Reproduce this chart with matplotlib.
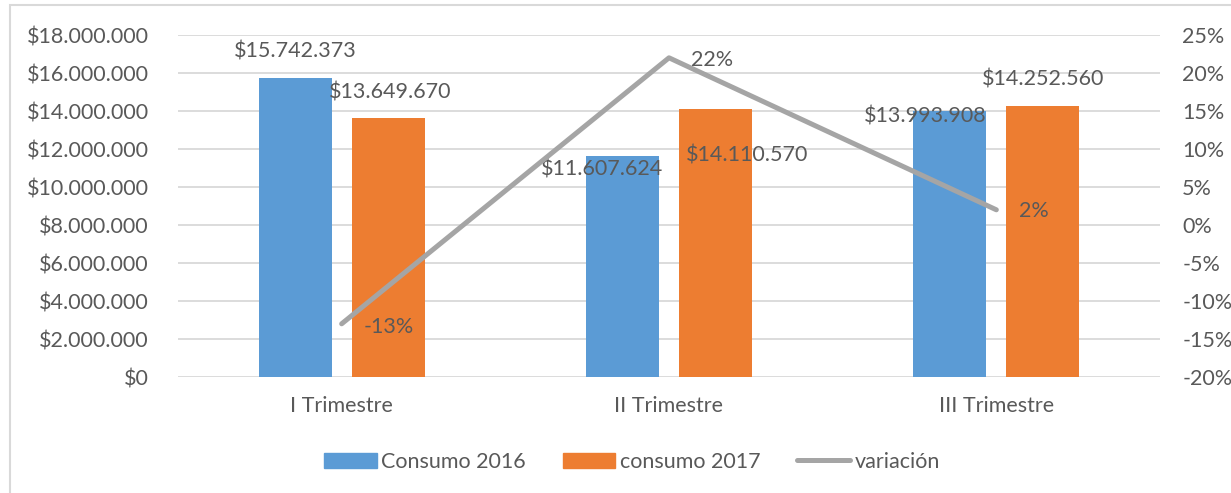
import numpy as np
import matplotlib.pyplot as plt
from matplotlib.lines import Line2D
from matplotlib.patches import Patch, Rectangle
from matplotlib.ticker import FuncFormatter

plt.rcParams['font.family'] = ['Lato', 'DejaVu Sans']

trimestres = ['I Trimestre', 'II Trimestre', 'III Trimestre']
consumo_2016 = [15742373, 11607624, 13993908]
consumo_2017 = [13649670, 14110570, 14252560]
variacion = [-13, 22, 2]

# label offsets (pixels)
off_2016 = [(0, 26), (-20, -13), (-25, -5)]
off_2017 = [(2, 25), (32, -47), (0, 27)]
off_var = [(47, -3), (43, -2), (38, -1)]

AZUL = '#5B9BD5'
NARANJA = '#ED7D31'
GRIS = '#A5A5A5'
TXT = '#595959'
GRID = '#D9D9D9'
FS = 15.5


def pesos(v, pos=None):
    return '$' + '{:,.0f}'.format(v).replace(',', '.')


fig = plt.figure(figsize=(12.31, 4.93), dpi=100)
fig.patches.append(Rectangle((10 / 1231, -0.1), 1.2, 1.1 - 5 / 493, transform=fig.transFigure,
                             fill=False, edgecolor=GRID, linewidth=1.5))

ax = fig.add_axes([178 / 1231, 1 - 377 / 493, (1160 - 178) / 1231, (377 - 35) / 493])
x = np.arange(len(trimestres))
w = 0.223
d = 0.142

ax.bar(x - d, consumo_2016, w, color=AZUL, zorder=2)
ax.bar(x + d, consumo_2017, w, color=NARANJA, zorder=2)

ax.set_ylim(0, 18000000)
ax.set_yticks(np.arange(0, 18000001, 2000000))
ax.yaxis.set_major_formatter(FuncFormatter(pesos))
ax.set_xlim(-0.5, 2.5)
ax.set_xticks(x)
ax.set_xticklabels(trimestres)
ax.grid(axis='y', color=GRID, linewidth=1.3, zorder=0)
for s in ax.spines.values():
    s.set_visible(False)
ax.tick_params(length=0, labelsize=FS, colors=TXT)
ax.tick_params(axis='y', pad=21)
ax.tick_params(axis='x', pad=14)

ax2 = ax.twinx()
ax2.plot(x, variacion, color=GRIS, linewidth=3.6, solid_capstyle='round', zorder=3)
ax2.set_ylim(-20, 25)
ax2.set_yticks(np.arange(-20, 26, 5))
ax2.yaxis.set_major_formatter(FuncFormatter(lambda v, p: '%d%%' % v))
for s in ax2.spines.values():
    s.set_visible(False)
ax2.tick_params(length=0, labelsize=FS, colors=TXT, pad=16)

for i in range(len(x)):
    ax.annotate(pesos(consumo_2016[i]), (x[i] - d, consumo_2016[i]), xytext=off_2016[i],
                textcoords='offset pixels', ha='center', va='center', fontsize=FS, color=TXT, zorder=5)
    ax.annotate(pesos(consumo_2017[i]), (x[i] + d, consumo_2017[i]), xytext=off_2017[i],
                textcoords='offset pixels', ha='center', va='center', fontsize=FS, color=TXT, zorder=5)
    ax2.annotate('%d%%' % variacion[i], (x[i], variacion[i]), xytext=off_var[i],
                 textcoords='offset pixels', ha='center', va='center', fontsize=FS, color=TXT, zorder=5)

handles = [Patch(color=AZUL), Patch(color=NARANJA),
           Line2D([], [], color=GRIS, linewidth=3.6, solid_capstyle='round')]
fig.legend(handles, ['Consumo 2016', 'consumo 2017', 'variación'], loc='center',
           bbox_to_anchor=(632 / 1231, 1 - 462 / 493), ncol=3, frameon=False, fontsize=FS,
           labelcolor=TXT, handlelength=2.45, handletextpad=0.22, columnspacing=1.7)

fig.savefig('out.png', dpi=100)
